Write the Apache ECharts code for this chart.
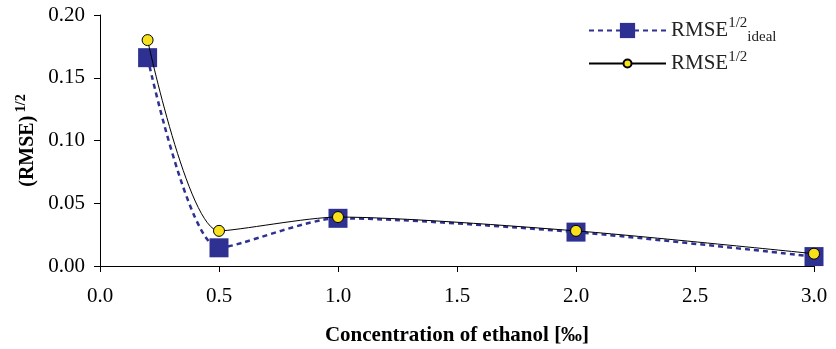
<!DOCTYPE html>
<html><head><meta charset="utf-8">
<script src="https://cdn.jsdelivr.net/npm/echarts@6/dist/echarts.min.js"></script>
<style>html,body{margin:0;padding:0;background:#fff}#c{width:836px;height:349px}</style>
</head><body><div id="c"></div>
<script>
const concentrations = [0.2, 0.5, 1.0, 2.0, 3.0];
const rmseIdeal = [0.166, 0.0145, 0.038, 0.027, 0.0075];
const rmse = [0.180, 0.028, 0.039, 0.028, 0.0098];
const xTicks = ['0.0','0.5','1.0','1.5','2.0','2.5','3.0'];
const yTicks = ['0.00','0.05','0.10','0.15','0.20'];

const font = 'Liberation Serif, Times New Roman, serif';
const legendRich = {
  b: {fontFamily: font, fontSize: 21, color: '#222', lineHeight: 24},
  s: {fontFamily: font, fontSize: 15, color: '#222', verticalAlign: 'top', padding: [0,0,12,0]},
  d: {fontFamily: font, fontSize: 15, color: '#222', verticalAlign: 'bottom', padding: [14,0,0,0]}
};
const legendFmt = n => n === 'ideal' ? '{b|RMSE}{s|1/2}{d|ideal}' : '{b|RMSE}{s|1/2}';
const chart = echarts.init(document.getElementById('c'));
chart.setOption({
  animation: false,
  grid: {left: 100, right: 22, top: 15, bottom: 83, containLabel: false, outerBoundsMode: 'none'},
  legend: [
    {left: 583, top: 11, itemWidth: 77, itemHeight: 19, data: ['ideal'],
      formatter: legendFmt, textStyle: {rich: legendRich}},
    {left: 583, top: 45, itemWidth: 77, itemHeight: 10, data: ['real'],
      formatter: legendFmt, textStyle: {rich: legendRich}}
  ],
  xAxis: {
    type: 'value', min: 0, max: 3, interval: 0.5,
    axisLine: {lineStyle: {color: '#000', width: 1}},
    axisTick: {lineStyle: {color: '#000'}, length: 6},
    splitLine: {show: false},
    axisLabel: {fontFamily: font, fontSize: 21, color: '#000', margin: 20,
      formatter: v => xTicks[Math.round(v / 0.5)]},
    name: 'Concentration of ethanol [‰]', nameLocation: 'middle', nameGap: 59,
    nameTextStyle: {fontFamily: font, fontSize: 21, fontWeight: 'bold', color: '#000'}
  },
  yAxis: {
    type: 'value', min: 0, max: 0.2, interval: 0.05,
    axisLine: {show: true, lineStyle: {color: '#000', width: 1}},
    axisTick: {show: true, lineStyle: {color: '#000'}, length: 6},
    splitLine: {show: false},
    axisLabel: {fontFamily: font, fontSize: 21, color: '#000', margin: 15,
      formatter: v => yTicks[Math.round(v / 0.05)]},
    name: '{t|(RMSE)}{s| 1/2}', nameLocation: 'middle', nameGap: 58, nameRotate: 90,
    nameTextStyle: {rich: {
      t: {fontFamily: font, fontSize: 20, fontWeight: 'bold', color: '#000'},
      s: {fontFamily: font, fontSize: 14, fontWeight: 'bold', color: '#000', verticalAlign: 'top', padding: [0,0,12,0]}
    }}
  },
  series: [
    {
      name: 'ideal', type: 'line', smooth: 0.25, z: 2,
      data: concentrations.map((x, i) => [x, rmseIdeal[i]]),
      symbol: 'rect', symbolSize: 19,
      itemStyle: {color: '#2e3192'},
      lineStyle: {color: '#2e3192', width: 2.5, type: [5, 4]}
    },
    {
      name: 'real', type: 'line', smooth: 0.25, z: 3,
      data: concentrations.map((x, i) => [x, rmse[i]]),
      symbol: 'circle', symbolSize: 11,
      itemStyle: {color: '#f7e11c', borderColor: '#000', borderWidth: 1},
      lineStyle: {color: '#000', width: 1}
    }
  ]
});
</script></body></html>
